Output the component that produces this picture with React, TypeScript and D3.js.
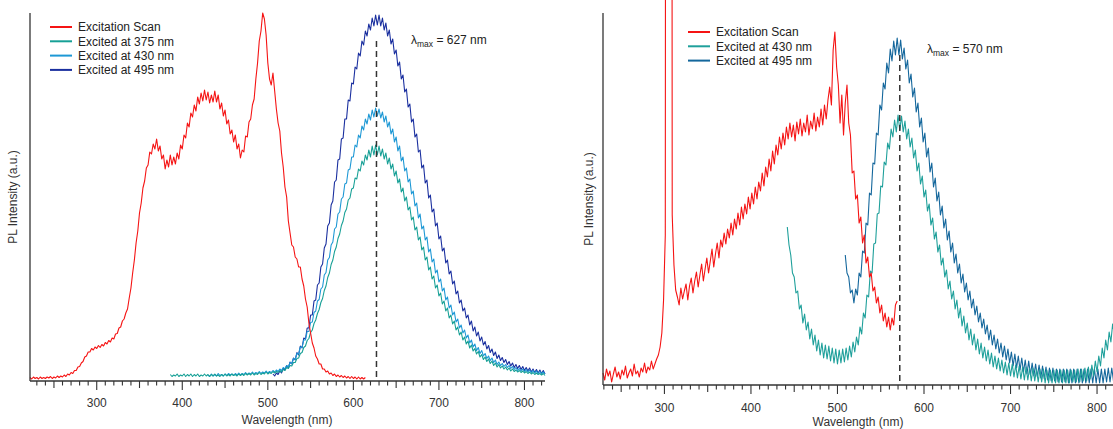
import React from "react";
import * as d3 from "d3";

// ---------- DATA (intensity in arbitrary units, wavelength in nm, 2 nm sampling) ----------
const STEP = 2;

// Left panel
const leftRedStart = 222;
const leftRed = [3.5, 2, 4, 2.5, 3.5, 2, 4, 2.5, 3.5, 2.5, 4, 3, 4.5, 2.5, 4, 3, 5, 3.5, 5, 4, 6, 4.5, 7, 6, 8.5, 7.5, 10.5, 10.5, 14, 14.5, 18, 19.5, 24, 25, 29, 29, 32.5, 31, 34, 32.5, 35.5, 33.5, 36.5, 35, 38.5, 37, 40.5, 39, 43, 42, 47, 47.5, 53, 54, 60, 62, 68, 72, 83, 93, 108, 121, 138, 150, 168, 178, 193, 200, 213, 216, 229, 227, 237, 232, 242, 230, 235, 222, 226, 212, 221, 214, 226, 216, 224, 217, 228, 222, 236, 232, 246, 243, 258, 254, 268, 264, 276, 270, 284, 277, 288, 280, 291, 281, 289, 278, 286, 279, 290, 279, 286, 272, 278, 265, 271, 257, 261, 247, 251, 239, 246, 232, 237, 223, 231, 229, 245, 244, 259, 262, 276, 282, 302, 318, 340, 350, 368, 362, 346, 318, 302, 296, 308, 290, 272, 258, 250, 228, 214, 194, 184, 160, 148, 136, 134, 124, 122, 114, 114, 102, 95, 82, 74, 58, 48, 38, 33, 25, 22, 17, 17, 12, 12, 9, 10, 7, 8, 5.5, 7, 4.5, 6, 4, 5.5, 3.5, 5, 3, 4.5, 2.5, 4.5, 2.5, 4, 2, 4, 2, 3.5, 2, 3.5];

const leftTealStart = 386;
const leftTeal = [6.5, 4.5, 6, 5, 7, 4.5, 6, 5, 7, 4.5, 6.5, 5, 7, 4.5, 6.5, 5, 7, 4.5, 6, 5, 7, 5, 6.5, 4.5, 6.5, 5, 7, 5, 6, 4.5, 6.5, 5, 7, 5, 6.5, 5, 7, 5.5, 6.5, 5, 7, 5.5, 7, 5.5, 7.5, 6, 7.5, 6, 8, 6, 7.5, 6.5, 8.5, 6.5, 8, 7, 9, 7, 8.5, 7.5, 9.5, 8, 9.5, 8.5, 10.5, 9, 11.5, 10.5, 13.5, 12.5, 15.5, 15, 18.5, 18.5, 22.5, 23, 27.5, 28.5, 33.5, 35, 40.5, 42.5, 48.5, 51, 57.5, 61, 67.5, 71.5, 78.5, 82.5, 90.5, 95, 103.5, 108, 116.5, 121, 129.5, 134, 142.5, 147, 155.5, 160, 168.5, 172, 181, 183, 192, 193, 203, 202, 212, 210, 220, 216, 226, 221, 231, 224, 235, 226, 236, 226, 235, 225, 232, 222, 228, 217, 223, 212, 217, 205, 210, 198, 202, 189, 193, 180, 184, 171, 174, 161, 164, 151, 154, 141, 144, 131, 134, 121, 124, 111, 114, 102, 105, 93, 96, 85, 88, 77, 80, 70, 73, 63, 66, 57, 60, 51, 54, 46, 49, 41, 44, 37, 40, 33, 36, 30, 32.5, 27, 29.5, 24, 26.5, 21.5, 24, 19.5, 22, 17.5, 20, 15.5, 18, 14, 16.5, 13, 15, 12, 14, 11, 13, 10, 12, 9.5, 11, 9, 10.5, 8.5, 10, 8, 9.5, 7.5, 9, 7, 8.5, 6.5, 8, 6.5, 7.5, 6, 7.5, 5.5];

const leftLightStart = 430;
const leftLight = [6, 4.5, 7, 5, 6.5, 5, 7.5, 5.5, 6.5, 5, 7, 5.5, 7.5, 6, 7, 5.5, 7.5, 6, 8, 6, 7.5, 6.5, 8.5, 6.5, 8, 7, 9, 7, 8.5, 7.5, 9.5, 7.5, 9, 8, 10, 8, 9.5, 8.5, 10.5, 9, 11, 9.5, 12, 10.5, 13.5, 12, 15.5, 14, 18.5, 17.5, 22.5, 21.5, 27.5, 27, 34, 33.5, 41, 41, 49.5, 49.5, 58.5, 59, 68.5, 70, 80, 81.5, 92, 94, 106, 108.5, 121, 123.5, 136, 139, 152, 154, 167, 169, 182, 184, 197, 198, 211, 212, 224, 224, 236, 234, 246, 243, 255, 251, 262, 257, 267, 261, 271, 264, 273, 265, 272, 263, 269, 259, 265, 254, 259, 247, 252, 239, 244, 230, 235, 220, 224, 210, 213, 199, 202, 187, 190, 175, 178, 163, 167, 152, 155, 141, 144, 129, 132, 119, 122, 108, 111, 99, 102, 90, 93, 81, 84, 73, 76, 66, 69, 59, 62, 53, 56, 48, 51, 43, 46, 38, 41, 34, 37, 30.5, 33.5, 27.5, 30.5, 25, 27.5, 22.5, 25, 20.5, 23, 18.5, 21, 16.5, 19, 15.5, 17.5, 14.5, 16.5, 13.5, 15.5, 12.5, 14.5, 11.5, 13.5, 10.5, 12.5, 10, 12, 9.5, 11.5, 9, 11, 8.5, 10.5, 8, 10, 7.5, 9.5, 7.5, 9, 7];

const leftDarkStart = 506;
const leftDark = [7, 5, 8, 6.5, 10, 8, 12.5, 11, 15.5, 13, 19, 17, 23, 21, 28.5, 26, 35, 33, 43, 42, 53, 53, 66, 66, 80, 81, 96, 98, 114, 117, 133, 137, 155, 158, 176, 180, 199, 201, 221, 222, 242, 243, 262, 262, 281, 280, 298, 297, 314, 312, 328, 325, 340, 336, 350, 345, 357, 351, 363, 355, 366, 356, 366, 355, 363, 351, 358, 345, 351, 337, 342, 327, 331, 315, 319, 302, 306, 289, 292, 274, 277, 259, 262, 244, 247, 229, 231, 213, 216, 198, 201, 183, 186, 169, 172, 155, 158, 142, 145, 130, 133, 118, 121, 107, 110, 97, 100, 87, 90, 78, 81, 70, 73, 63, 66, 56, 60, 50, 54, 45, 49, 40, 44, 36, 39.5, 32, 35.5, 28.5, 32, 25.5, 29, 22.5, 26, 20.5, 23.5, 18.5, 21.5, 16.5, 19.5, 15, 18, 13.5, 16.5, 12.5, 15.5, 11.5, 14.5, 10.5, 13.5, 10, 13, 9, 12, 8.5, 11.5, 8, 11, 7.5, 10.5, 7];

// Right panel
const rightRedStart = 229;
const rightRed = [12, 5, 16, 9, 14, 3, 11, 18, 8, 13, 6, 15, 10, 19, 7, 12, 16, 9, 21, 11, 14, 8, 17, 13, 22, 12, 18, 15, 24, 16, 21,
  26, 30, 38, 52, 85, 150, 3000, 3000, 3000, 170, 120, 95,
  88, 80, 97, 86, 94, 101, 85, 99, 107, 92, 104, 113, 98, 110, 121, 104, 116, 127, 112, 124, 136, 118, 131, 142, 127, 145, 138, 152, 141, 156, 147, 162, 150, 166, 156, 172, 160, 178, 166, 181, 171, 188, 176, 192, 181, 198, 186, 203, 194, 212, 199, 218, 208, 226, 214, 234, 221, 240, 230, 248, 236, 252, 240, 258, 246, 262, 248, 260, 244, 263, 251, 266, 249, 262, 253, 270, 250, 264, 256, 272, 254, 268, 258, 276, 260, 280, 266, 285,
  298, 280, 335, 353, 318, 300, 262, 290, 250, 282, 300, 262, 250, 212, 214, 186, 190, 162, 168, 142, 150, 122, 128, 108, 112, 94, 98, 82, 88, 72, 80, 64, 72, 58, 68, 55, 67, 60, 80, 84];

const rightTealStart = 442;
const rightTeal = [158, 140, 130, 112, 108, 92, 94, 76, 80, 62, 71, 55, 63, 46, 56, 40, 50, 34, 45, 30, 42, 27, 40, 26, 39, 24, 37, 22, 36, 21, 35, 22, 36, 23, 37, 25, 39, 28, 43, 33, 48, 40, 58, 51, 72, 67, 90, 88, 114, 112, 141, 142, 171, 172, 199, 198, 223, 220, 242, 236, 256, 248, 265, 253, 270, 255, 269, 253, 264, 246, 256, 238, 247, 227, 235, 214, 222, 201, 209, 188, 195, 174, 181, 160, 167, 146, 153, 133, 140, 120, 127, 108, 115, 96, 104, 86, 94, 76, 85, 67, 77, 59, 69, 52, 62, 45, 56, 40, 51, 35, 46, 31, 42, 27, 38, 24, 35, 21, 32, 18, 29, 16, 27, 14, 25, 12, 23, 10, 22, 9, 21, 8, 20, 7, 19, 6, 18, 5, 18, 5, 17, 4, 17, 4, 16, 3, 16, 3, 16, 2, 15, 2, 15, 2, 15, 2, 15, 2, 15, 2, 15, 2, 15, 2, 15, 3, 15, 3, 16, 3, 16, 4, 17, 4, 18, 6, 20, 9, 24, 13, 29, 19, 37, 27, 45, 35, 53, 43, 61, 51, 69, 59, 77, 67, 85];

const rightBlueStart = 509;
const rightBlue = [130, 112, 108, 92, 95, 82, 96, 90, 112, 108, 134, 132, 162, 160, 192, 190, 222, 221, 252, 250, 280, 275, 302, 296, 322, 312, 336, 324, 344, 330, 347, 330, 345, 326, 337, 316, 325, 302, 311, 288, 297, 273, 282, 258, 267, 243, 252, 228, 237, 213, 222, 198, 207, 184, 193, 170, 179, 157, 166, 145, 154, 133, 142, 122, 131, 112, 121, 102, 111, 93, 102, 85, 94, 77, 86, 70, 79, 63, 72, 57, 66, 51, 60, 45, 55, 40, 50, 36, 46, 32, 42, 28, 39, 25, 36, 22, 33, 19, 31, 17, 29, 15, 27, 13, 25, 11, 24, 10, 22, 9, 21, 8, 20, 7, 19, 6, 18, 5, 17, 4, 17, 4, 16, 3, 16, 3, 16, 3, 16, 2, 16, 2, 16, 2, 16, 2, 16, 2, 16, 2, 16, 2, 16, 2, 16, 2, 16, 2, 16, 2, 16, 3, 17, 3, 17, 4, 18, 5, 19];

const majorTickLabels = [300, 400, 500, 600, 700, 800];
const leftLegend = ["Excitation Scan", "Excited at 375 nm", "Excited at 430 nm", "Excited at 495 nm"];
const rightLegend = ["Excitation Scan", "Excited at 430 nm", "Excited at 495 nm"];
const leftLambda = 627;
const rightLambda = 572;
const leftLambdaText = " = 627 nm";
const rightLambdaText = " = 570 nm";

const RED = "#f51414";
const TEAL = "#17a096";
const LIGHT = "#1d98d5";
const DARK = "#1a2f9f";
const R_TEAL = "#1fa09b";
const R_BLUE = "#14679c";
const AXIS = "#333";
const FONT = "'Liberation Sans', Arial, sans-serif";

function toPoints(start: number, vals: number[]) {
  return vals.map((v, i) => [start + i * STEP, v] as [number, number]);
}

type Series = { start: number; vals: number[]; color: string };

function Panel(props: {
  x0: number; x1: number; domain: [number, number]; yTop: number; yBot: number; yMax: number;
  series: Series[]; legend: string[]; legendColors: string[]; legX: number; legY: number;
  lambda: number; lambdaTop: number; lambdaLabel: string; lamX: number; lamY: number;
  yTitleX: number; tickLabelY: number; titleY: number; titleX: number;
}) {
  const p = props;
  const x = d3.scaleLinear().domain(p.domain).range([p.x0, p.x1]);
  const y = d3.scaleLinear().domain([0, p.yMax]).range([p.yBot, p.yTop]);
  const line = d3.line<[number, number]>().x(d => x(d[0])).y(d => y(d[1]));
  const ticks = d3.range(Math.ceil(p.domain[0] / 10) * 10, p.domain[1] + 0.1, 10);
  const axisRight = Math.min(p.x1, 1113);
  return (
    <g>
      {p.series.map((s, i) => (
        <path key={i} d={line(toPoints(s.start, s.vals)) || ""} fill="none" stroke={s.color} strokeWidth={1.1} strokeLinejoin="round" />
      ))}
      <line x1={x(p.lambda)} x2={x(p.lambda)} y1={y(p.lambdaTop)} y2={p.yBot} stroke={AXIS} strokeWidth={1.5} strokeDasharray="6,4" />
      <line x1={p.x0} x2={p.x0} y1={p.yTop} y2={p.yBot} stroke={AXIS} strokeWidth={1.3} />
      <line x1={p.x0} x2={axisRight} y1={p.yBot} y2={p.yBot} stroke={AXIS} strokeWidth={1.3} />
      {ticks.map(t => {
        const len = t % 100 === 0 ? 9 : t % 50 === 0 ? 7 : 4.5;
        return <line key={t} x1={x(t)} x2={x(t)} y1={p.yBot} y2={p.yBot + len} stroke={AXIS} strokeWidth={1.1} />;
      })}
      {majorTickLabels.map(t => (
        <text key={t} x={x(t)} y={p.tickLabelY} textAnchor="middle" fontSize={12} fill="#333" fontFamily={FONT}>{t}</text>
      ))}
      <text x={p.titleX} y={p.titleY} textAnchor="middle" fontSize={12} fill="#333" fontFamily={FONT}>Wavelength (nm)</text>
      <text transform={`translate(${p.yTitleX},${(p.yTop + p.yBot) / 2}) rotate(-90)`} textAnchor="middle" dominantBaseline="central" fontSize={12} fill="#333" fontFamily={FONT}>PL Intensity (a.u.)</text>
      {p.legend.map((l, i) => (
        <g key={l}>
          <line x1={p.legX} x2={p.legX + 22} y1={p.legY + i * 14.3} y2={p.legY + i * 14.3} stroke={p.legendColors[i]} strokeWidth={2} />
          <text x={p.legX + 28} y={p.legY + i * 14.3 + 4.2} fontSize={12} fill="#222" fontFamily={FONT}>{l}</text>
        </g>
      ))}
      <text x={p.lamX} y={p.lamY} fontSize={12} fill="#222" fontFamily={FONT}>
        λ<tspan fontSize={8.5} dy={3}>max</tspan><tspan dy={-3}>{p.lambdaLabel}</tspan>
      </text>
    </g>
  );
}

export default function App() {
  return (
    <svg width={1113} height={429} style={{ position: "absolute", left: 0, top: 0, overflow: "hidden", background: "#fff" }}>
      <Panel
        x0={30} x1={545} domain={[222, 824]} yTop={13} yBot={381} yMax={368}
        series={[
          { start: leftDarkStart, vals: leftDark, color: DARK },
          { start: leftLightStart, vals: leftLight, color: LIGHT },
          { start: leftTealStart, vals: leftTeal, color: TEAL },
          { start: leftRedStart, vals: leftRed, color: RED },
        ]}
        legend={leftLegend} legendColors={[RED, TEAL, LIGHT, DARK]} legX={50} legY={27}
        lambda={leftLambda} lambdaTop={340} lambdaLabel={leftLambdaText} lamX={411} lamY={44}
        yTitleX={13} tickLabelY={407} titleY={424} titleX={287}
      />
      <Panel
        x0={603} x1={1123} domain={[229, 830]} yTop={13} yBot={385} yMax={372}
        series={[
          { start: rightBlueStart, vals: rightBlue, color: R_BLUE },
          { start: rightTealStart, vals: rightTeal, color: R_TEAL },
          { start: rightRedStart, vals: rightRed, color: RED },
        ]}
        legend={rightLegend} legendColors={[RED, R_TEAL, R_BLUE]} legX={688} legY={32}
        lambda={rightLambda} lambdaTop={330} lambdaLabel={rightLambdaText} lamX={927} lamY={53}
        yTitleX={589} tickLabelY={412} titleY={426} titleX={858}
      />
    </svg>
  );
}
